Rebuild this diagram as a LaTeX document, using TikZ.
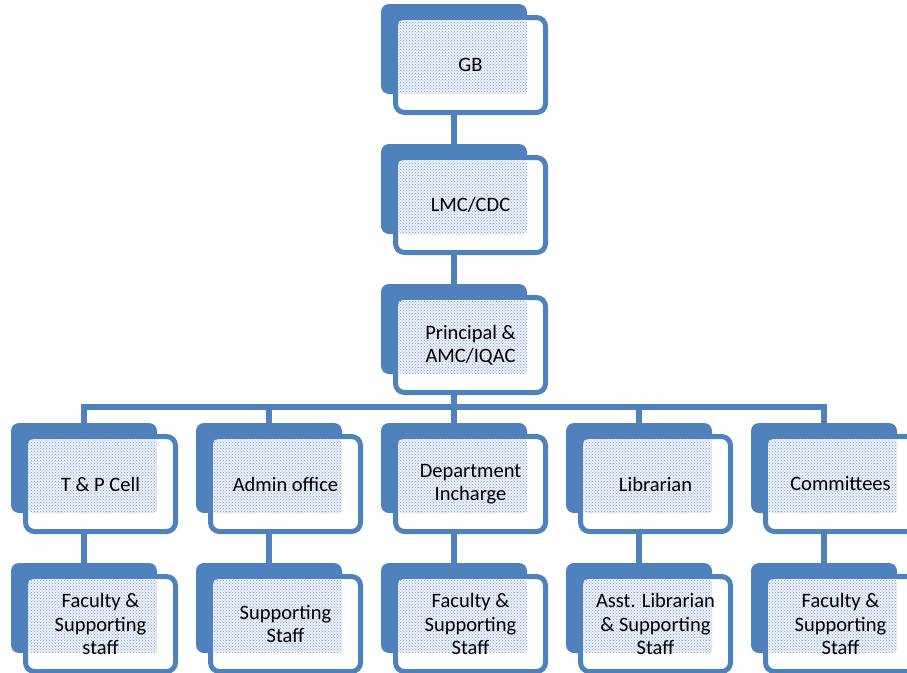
\documentclass[tikz,border=0pt]{standalone}
\usepackage{fontspec}
\setmainfont{Carlito}
\usetikzlibrary{calc,backgrounds,patterns}
\definecolor{orgblue}{HTML}{4F81BD}
\definecolor{dotblue}{RGB}{125,160,215}
\definecolor{paleblue}{RGB}{236,241,249}
\tikzset{
  x=1pt, y=-1pt,
  backbox/.style={rectangle, rounded corners=8pt, fill=orgblue, inner sep=0pt,
    outer sep=0pt, minimum width=146pt, minimum height=90pt},
  frontbox/.style={rectangle, rounded corners=9pt, fill=white, draw=orgblue,
    line width=5pt, inner sep=0pt, outer sep=0pt, minimum width=150pt, minimum height=95pt},
  dotfill/.style={fill=paleblue, postaction={pattern=crosshatch dots, pattern color=dotblue}},
  lbl/.style={align=center, inner sep=0pt, font=\fontsize{20.5}{23.5}\selectfont},
  conn/.style={draw=orgblue, line width=5.5pt}
}
% one chart box: back panel, front card, dotted overlap, caption
% #1 name, #2 back centre x, #3 back centre y, #4 caption
\newcommand{\orgcard}[4]{%
  \node[backbox] (#1B) at (#2,#3) {};
  \node[frontbox] (#1) at ($(#2,#3)+(16.5,16)$) {};
  \path[dotfill, rounded corners=3pt] ($(#1.north west)+(3,3)$) rectangle (#1B.south east);
  \node[lbl] (#1T) at (#1) {#4};
}
\begin{document}
\begin{tikzpicture}
\clip (0,0) rectangle (907,672);
\useasboundingbox (0,0) rectangle (907,672);

% top chain
\orgcard{gb}{454}{49}{GB}
\orgcard{lmc}{454}{189}{LMC/CDC}
\orgcard{pr}{454}{329}{Principal \&\\AMC/IQAC}

% middle row
\orgcard{tp}{84}{468}{T \& P Cell}
\orgcard{ad}{269}{468}{Admin office}
\orgcard{dp}{454}{468}{Department\\Incharge}
\orgcard{lb}{639}{468}{Librarian}
\orgcard{cm}{824}{468}{Committees}

% bottom row
\orgcard{tps}{84}{608}{Faculty \&\\Supporting\\staff}
\orgcard{ads}{269}{608}{Supporting\\Staff}
\orgcard{dps}{454}{608}{Faculty \&\\Supporting\\Staff}
\orgcard{lbs}{639}{608}{Asst. Librarian\\\& Supporting\\Staff}
\orgcard{cms}{824}{608}{Faculty \&\\Supporting\\Staff}

\coordinate (bus) at (454,407);

\begin{scope}[on background layer]
  \draw[conn] (gbB.south |- gb.south) -- (lmcB.north);
  \draw[conn] (lmcB.south |- lmc.south) -- (prB.north);
  \draw[conn] (prB.south |- pr.south) -- (bus);
  \draw[conn] (tpB.north) -- (tpB.north |- bus) -- (cmB.north |- bus) -- (cmB.north);
  \foreach \c in {ad,dp,lb}{
    \draw[conn] (\c B.north |- bus) -- (\c B.north);
  }
  \foreach \c in {tp,ad,dp,lb,cm}{
    \draw[conn] (\c B.south |- \c.south) -- (\c sB.north);
  }
\end{scope}
\end{tikzpicture}
\end{document}
